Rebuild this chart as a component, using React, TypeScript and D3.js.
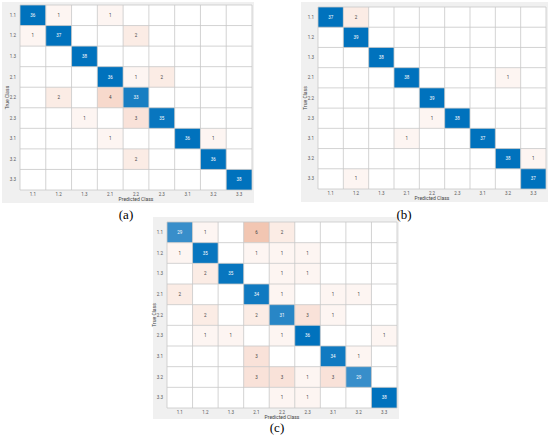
import React from "react";
import * as d3 from "d3";

const classes = ["1.1", "1.2", "1.3", "2.1", "2.2", "2.3", "3.1", "3.2", "3.3"];

const matrixA = [
  [36, 1, 0, 1, 0, 0, 0, 0, 0],
  [1, 37, 0, 0, 2, 0, 0, 0, 0],
  [0, 0, 38, 0, 0, 0, 0, 0, 0],
  [0, 0, 0, 36, 1, 2, 0, 0, 0],
  [0, 2, 0, 4, 33, 0, 0, 0, 0],
  [0, 0, 1, 0, 3, 35, 0, 0, 0],
  [0, 0, 0, 1, 0, 0, 36, 1, 0],
  [0, 0, 0, 0, 2, 0, 0, 36, 0],
  [0, 0, 0, 0, 0, 0, 0, 0, 38],
];

const matrixB = [
  [37, 2, 0, 0, 0, 0, 0, 0, 0],
  [0, 39, 0, 0, 0, 0, 0, 0, 0],
  [0, 0, 38, 0, 0, 0, 0, 0, 0],
  [0, 0, 0, 38, 0, 0, 0, 1, 0],
  [0, 0, 0, 0, 39, 0, 0, 0, 0],
  [0, 0, 0, 0, 1, 38, 0, 0, 0],
  [0, 0, 0, 1, 0, 0, 37, 0, 0],
  [0, 0, 0, 0, 0, 0, 0, 38, 1],
  [0, 1, 0, 0, 0, 0, 0, 0, 37],
];

const matrixC = [
  [29, 1, 0, 6, 2, 0, 0, 0, 0],
  [1, 35, 0, 1, 1, 1, 0, 0, 0],
  [0, 2, 35, 0, 1, 1, 0, 0, 0],
  [2, 0, 0, 34, 1, 0, 1, 1, 0],
  [0, 2, 0, 2, 31, 3, 1, 0, 0],
  [0, 1, 1, 0, 1, 36, 0, 0, 1],
  [0, 0, 0, 3, 0, 0, 34, 1, 0],
  [0, 0, 0, 3, 3, 1, 3, 29, 0],
  [0, 0, 0, 0, 1, 1, 0, 0, 38],
];

const panelLabels = ["(a)", "(b)", "(c)"];

const blue = d3.scaleLinear<string>().domain([0, 22, 36]).range(["#ffffff", "#6fa9d6", "#0072bd"]).clamp(true);
const orange = d3.scaleLinear<string>().domain([0, 18]).range(["#ffffff", "#d95319"]).clamp(true);

type Box = { bx: number; by: number; bw: number; bh: number; x0: number; x1: number; y0: number; y1: number };

const Panel = ({ data, box }: { data: number[][]; box: Box }) => {
  const x = d3.scaleBand().domain(classes).range([box.x0, box.x1]);
  const y = d3.scaleBand().domain(classes).range([box.y0, box.y1]);
  const fs = 4.5;
  return (
    <g>
      <rect x={box.bx} y={box.by} width={box.bw} height={box.bh} fill="#f0f0f0" />
      <rect x={box.x0} y={box.y0} width={box.x1 - box.x0} height={box.y1 - box.y0} fill="#fff" />
      {data.map((row, i) =>
        row.map((v, j) => {
          if (v === 0) return null;
          const diag = i === j;
          return (
            <g key={`${i}-${j}`}>
              <rect x={x(classes[j])} y={y(classes[i])} width={x.bandwidth()} height={y.bandwidth()}
                fill={diag ? blue(v) : orange(v)} />
              <text x={x(classes[j])! + x.bandwidth() / 2} y={y(classes[i])! + y.bandwidth() / 2}
                dy="0.35em" textAnchor="middle" fontSize={fs} fontFamily="Roboto, sans-serif"
                fill={diag ? "#fff" : "#444"}>{v}</text>
            </g>
          );
        })
      )}
      {d3.range(classes.length + 1).map((k) => (
        <g key={"g" + k}>
          <line x1={box.x0 + k * x.step()} x2={box.x0 + k * x.step()} y1={box.y0} y2={box.y1} stroke="#c8c8c8" strokeWidth={0.8} />
          <line x1={box.x0} x2={box.x1} y1={box.y0 + k * y.step()} y2={box.y0 + k * y.step()} stroke="#c8c8c8" strokeWidth={0.8} />
        </g>
      ))}
      {classes.map((c) => (
        <g key={"t" + c} fontSize={fs} fontFamily="Roboto, sans-serif" fill="#555">
          <text x={x(c)! + x.bandwidth() / 2} y={box.y1 + 6} textAnchor="middle">{c}</text>
          <text x={box.x0 - 4} y={y(c)! + y.bandwidth() / 2} dy="0.35em" textAnchor="end">{c}</text>
        </g>
      ))}
      <text x={(box.x0 + box.x1) / 2} y={box.y1 + 11} textAnchor="middle" fontSize={5} fontFamily="Roboto, sans-serif" fill="#444">Predicted Class</text>
      <text transform={`translate(${box.x0 - 11},${(box.y0 + box.y1) / 2}) rotate(-90)`} textAnchor="middle" fontSize={5} fontFamily="Roboto, sans-serif" fill="#444">True Class</text>
    </g>
  );
};

const boxes: Box[] = [
  { bx: 2, by: 2, bw: 252, bh: 201, x0: 20, x1: 252, y0: 5, y1: 190 },
  { bx: 301, by: 2, bw: 247, bh: 200, x0: 318, x1: 546, y0: 7, y1: 189 },
  { bx: 153, by: 217, bw: 246, bh: 202, x0: 167, x1: 397, y0: 222, y1: 408 },
];

const labelPos = [
  { x: 126, y: 219 },
  { x: 404, y: 219 },
  { x: 277, y: 432 },
];

export default function App() {
  const mats = [matrixA, matrixB, matrixC];
  return (
    <svg width={550} height={442} style={{ position: "absolute", left: 0, top: 0 }}>
      <rect width={550} height={442} fill="#fff" />
      {mats.map((m, k) => (
        <Panel key={k} data={m} box={boxes[k]} />
      ))}
      {panelLabels.map((l, k) => (
        <text key={l} x={labelPos[k].x} y={labelPos[k].y} textAnchor="middle" fontSize={13}
          fontFamily="'Liberation Serif', 'DejaVu Serif', serif" fill="#000">{l}</text>
      ))}
    </svg>
  );
}
